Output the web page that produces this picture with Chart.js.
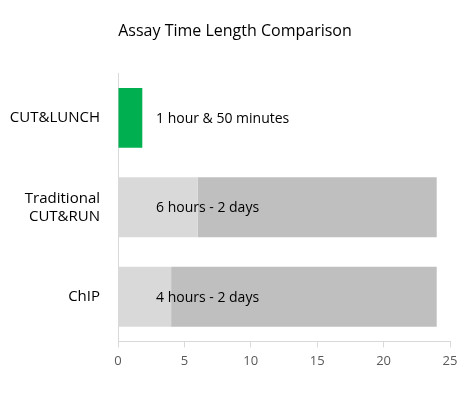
<!DOCTYPE html>
<html>
<head>
<meta charset="utf-8">
<script src="https://cdn.jsdelivr.net/npm/chart.js@4/dist/chart.umd.min.js"></script>
<style>
  html, body { margin: 0; padding: 0; background: #fff; }
  #wrap { width: 470px; height: 400px; }
</style>
</head>
<body>
<div id="wrap"><canvas id="chart"></canvas></div>
<script>
// categories and values (hours)
var categories = ['CUT&LUNCH', ['Traditional', 'CUT&RUN'], 'ChIP'];
var minHours = [1.83, 6, 4];      // shortest time
var extraHours = [0, 18, 20];     // up to the longest time (2 days = 24 h)
var barLabels = ['1 hour & 50 minutes', '6 hours - 2 days', '4 hours - 2 days'];
var xTicks = [0, 5, 10, 15, 20, 25];

var FONT = "'Open Sans', 'Liberation Sans', sans-serif";

// writes the text label inside each bar
var barTextPlugin = {
    id: 'barText',
    afterLayout: function (chart) {
        // let the category labels use the left padding too (labels are clipped to the axis box)
        chart.scales.y.left = 0;
    },
    afterDatasetsDraw: function (chart) {
        var ctx = chart.ctx;
        var meta = chart.getDatasetMeta(0);
        ctx.save();
        ctx.font = '14px ' + FONT;
        ctx.fillStyle = '#000';
        ctx.textBaseline = 'middle';
        ctx.textAlign = 'left';
        meta.data.forEach(function (bar, i) {
            ctx.fillText(barLabels[i], chart.chartArea.left + 38, bar.y + 1);
        });
        ctx.restore();
    }
};

new Chart(document.getElementById('chart'), {
    type: 'bar',
    data: {
        labels: categories,
        datasets: [{
            data: minHours,
            backgroundColor: ['#00B050', '#D9D9D9', '#D9D9D9'],
            barPercentage: 0.67,
            categoryPercentage: 1
        }, {
            data: extraHours,
            backgroundColor: '#BFBFBF',
            barPercentage: 0.67,
            categoryPercentage: 1
        }]
    },
    options: {
        indexAxis: 'y',
        responsive: true,
        maintainAspectRatio: false,
        animation: false,
        layout: { padding: { left: 20, right: 20, top: 0, bottom: 25 } },
        plugins: {
            legend: { display: false },
            tooltip: { enabled: false },
            title: {
                display: true,
                text: 'Assay Time Length Comparison',
                color: '#000',
                font: { family: FONT, size: 16, weight: 'normal' },
                padding: { top: 22, bottom: 32 }
            }
        },
        scales: {
            x: {
                stacked: true,
                min: 0,
                max: 25,
                afterBuildTicks: function (axis) {
                    axis.ticks = xTicks.map(function (v) { return { value: v }; });
                },
                grid: { display: true, drawOnChartArea: false, drawTicks: true, tickLength: 6, color: '#D9D9D9' },
                border: { display: true, color: '#D9D9D9' },
                ticks: { color: '#595959', font: { family: FONT, size: 13 }, padding: 6, maxRotation: 0 }
            },
            y: {
                stacked: true,
                afterFit: function (axis) { axis.width = 98; },
                grid: { display: false },
                border: { display: true, color: '#D9D9D9' },
                ticks: { color: '#000', font: { family: FONT, size: 15 }, padding: 10 }
            }
        }
    },
    plugins: [barTextPlugin]
});
</script>
</body>
</html>
